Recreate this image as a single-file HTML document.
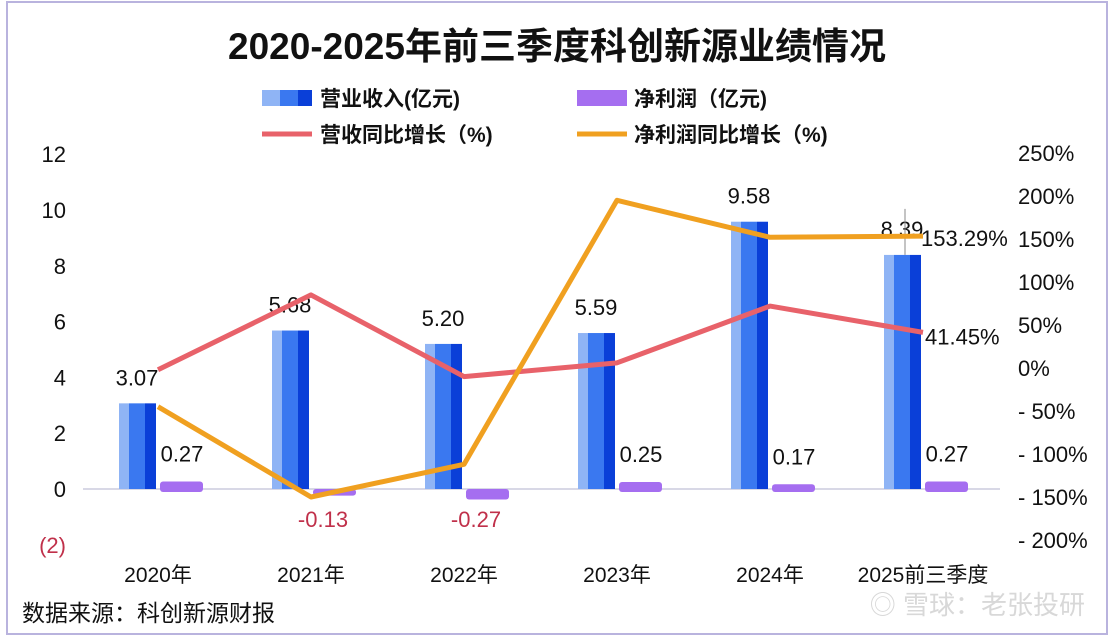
<!DOCTYPE html>
<html><head><meta charset="utf-8"><style>
body{margin:0;background:#fff;font-family:"Liberation Sans","Noto Sans CJK SC",sans-serif}
#wrap{position:relative;width:1114px;height:638px;overflow:hidden}
</style></head><body>
<div id="wrap">
<svg id="chart" width="1114" height="638" xmlns="http://www.w3.org/2000/svg">
<rect x="7" y="2" width="1100" height="632" fill="none" stroke="#b9b3de" stroke-width="2"/>
<text x="557" y="59" text-anchor="middle" font-size="37" font-weight="bold" fill="#111">2020-2025年前三季度科创新源业绩情况</text>
<g font-size="21" font-weight="bold" fill="#111">
<g><rect x="262" y="90" width="18" height="16" fill="#8fb4f5"/><rect x="280" y="90" width="18" height="16" fill="#3a78f0"/><rect x="298" y="90" width="14" height="16" fill="#0a3fd8"/><text x="320" y="106">营业收入(亿元)</text></g>
<g><rect x="577" y="90" width="50" height="16" fill="#a56ef0"/><text x="634" y="106">净利润（亿元)</text></g>
<g><line x1="262" y1="134" x2="312" y2="134" stroke="#e8626a" stroke-width="5"/><text x="320" y="142">营收同比增长（%)</text></g>
<g><line x1="577" y1="134" x2="627" y2="134" stroke="#f0a020" stroke-width="5"/><text x="634" y="142">净利润同比增长（%)</text></g>
</g>
<g id="axes"></g>
<g id="bars"></g>
<g id="lines"></g>
<text x="22" y="621" font-size="23" fill="#111">数据来源：科创新源财报</text>
<text x="1085" y="614" text-anchor="end" font-size="26" fill="#d8d8d8">◎ 雪球：老张投研</text>
</svg>
</div>
<script>
const categories=["2020年","2021年","2022年","2023年","2024年","2025前三季度"];
const revenue=[3.07,5.68,5.20,5.59,9.58,8.39];
const profit=[0.27,-0.13,-0.27,0.25,0.17,0.27];
const revGrowth=[-2,85,-10,6,72,41.45];
const profitGrowth=[-45,-150,-112,195,152,153.29];
const leftTicks=[12,10,8,6,4,2,0,-2];
const rightTicks=[250,200,150,100,50,0,-50,-100,-150,-200];
const NS="http://www.w3.org/2000/svg";
const yL=v=>489-v*27.9;
const yR=v=>368-v*0.86;
const xC=i=>158+i*153;
function mk(tag,attrs,parent,txt){const e=document.createElementNS(NS,tag);for(const k in attrs)e.setAttribute(k,attrs[k]);if(txt!==undefined)e.textContent=txt;parent.appendChild(e);return e;}
const axes=document.getElementById('axes'),bars=document.getElementById('bars'),lines=document.getElementById('lines');
leftTicks.forEach(t=>{const e=mk('text',{x:66,y:yL(t)+8,'text-anchor':'end','font-size':22,fill:t<0?'#c0304a':'#111'},axes,t<0?'('+(-t)+')':String(t));

});
rightTicks.forEach(t=>{const e=mk('text',{x:1018,y:yR(t)+8,'font-size':22,fill:'#111'},axes,(t<0?'- '+(-t):t)+'%');

});
const base=mk('line',{x1:83,y1:yL(0),x2:1000,y2:yL(0),stroke:'#ccccdd','stroke-width':1.5},axes);


categories.forEach((c,i)=>{const e=mk('text',{x:xC(i),y:582,'text-anchor':'middle','font-size':21,fill:'#111'},axes,c);

});
revenue.forEach((v,i)=>{const x=xC(i)-39,top=yL(v),h=yL(0)-top;
const g=mk('g',{},bars);


mk('rect',{x:x,y:top,width:10,height:h,fill:'#8fb4f5'},g);
mk('rect',{x:x+10,y:top,width:16,height:h,fill:'#3a78f0'},g);
mk('rect',{x:x+26,y:top,width:11,height:h,fill:'#0a3fd8'},g);
const t=mk('text',{x:xC(i)-21,y:top-18,'text-anchor':'middle','font-size':22,fill:'#111'},bars,v.toFixed(2));


if(i===revenue.length-1){const l=mk('line',{x1:xC(i)-18,y1:top-46,x2:xC(i)-18,y2:top,stroke:'#888','stroke-width':1},bars);

}
});
profit.forEach((v,i)=>{const x=xC(i)+2,y0=yL(0),y1=yL(v);
const r=mk('rect',{x:x,y:Math.min(y0,y1),width:43,height:Math.max(Math.abs(y1-y0),3)+3,rx:3,fill:'#a56ef0'},bars);


const t=v>=0?mk('text',{x:x+22,y:y1-20,'text-anchor':'middle','font-size':22,fill:'#111'},bars,v.toFixed(2)):mk('text',{x:x+10,y:y0+38,'text-anchor':'middle','font-size':22,fill:'#c0304a'},bars,v.toFixed(2));

});
function line(vals,color,name){const p=mk('polyline',{points:vals.map((v,i)=>xC(i)+','+yR(v)).join(' '),fill:'none',stroke:color,'stroke-width':5,'stroke-linejoin':'round'},lines);

}
line(revGrowth,'#e8626a','revenue-growth-line');
line(profitGrowth,'#f0a020','profit-growth-line');
const n=categories.length-1;
const a=mk('text',{x:xC(n)+2,y:yR(revGrowth[n])+12,'font-size':22,fill:'#111'},lines,revGrowth[n].toFixed(2)+'%');


const b=mk('text',{x:xC(n)-2,y:yR(profitGrowth[n])+10,'font-size':22,fill:'#111'},lines,profitGrowth[n].toFixed(2)+'%');


</script>
</body></html>
